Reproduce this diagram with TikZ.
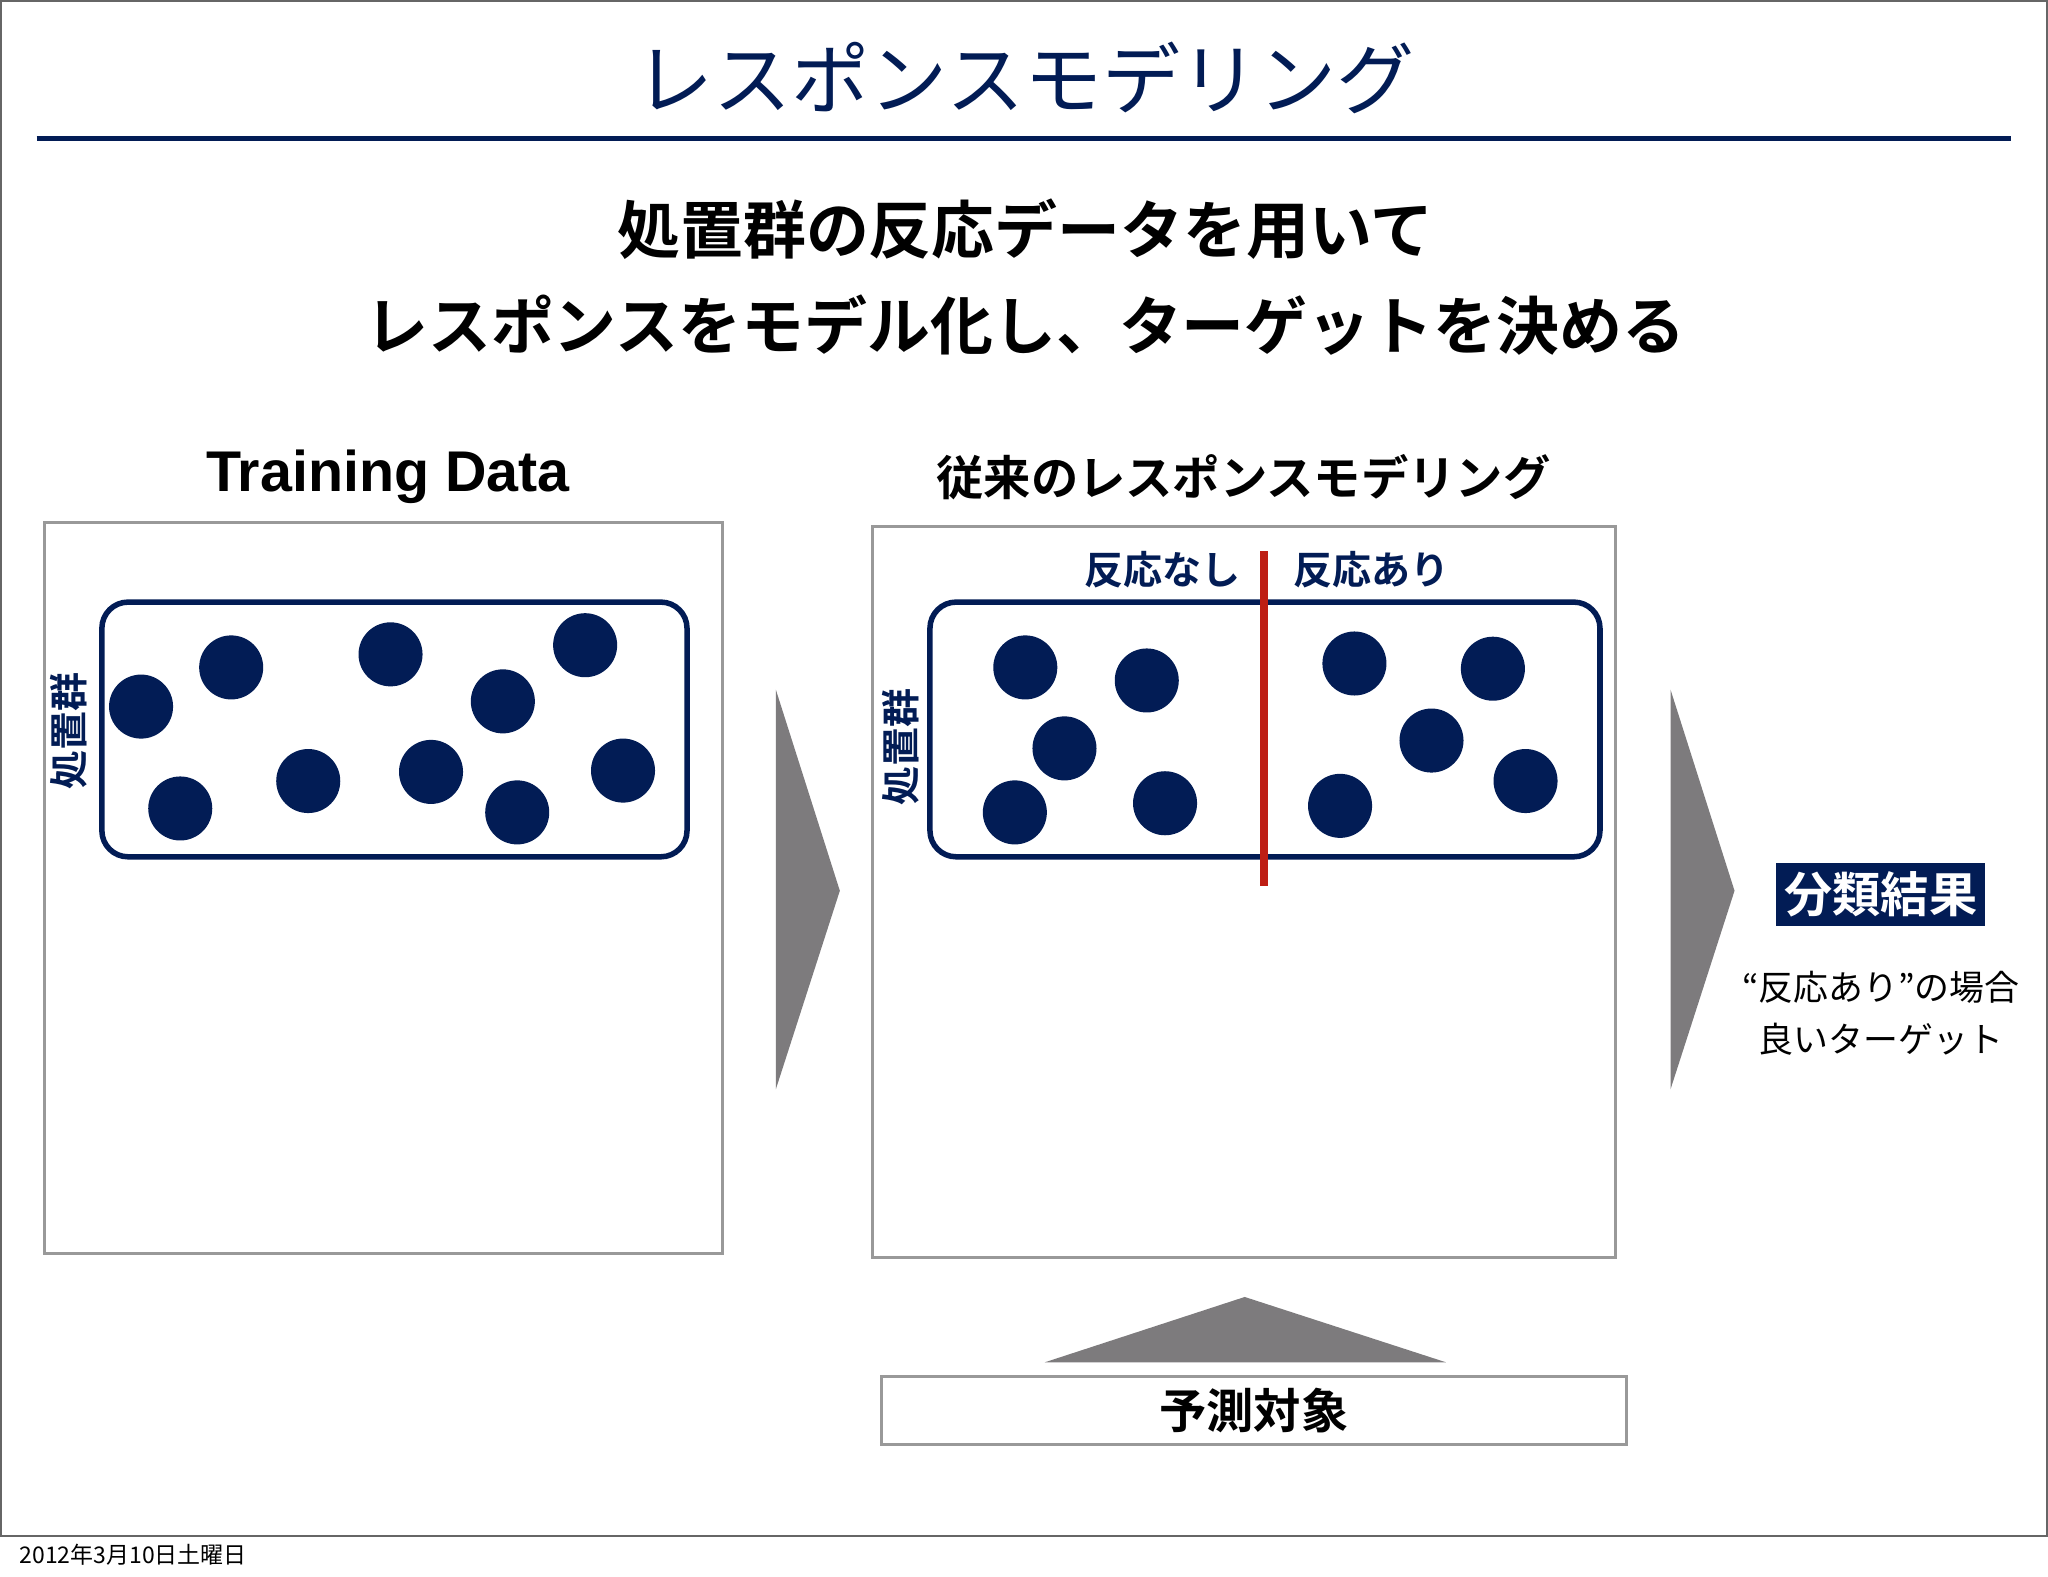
\documentclass[tikz,border=0pt]{standalone}
\usepackage{fontspec}
\setmainfont{Noto Sans CJK JP}
\newfontfamily\jpb{Noto Sans CJK JP}[UprightFont=* Bold]
\newfontfamily\lat{Liberation Sans}
\definecolor{navy}{RGB}{2,28,85}
\definecolor{arrowgray}{RGB}{125,123,125}
\definecolor{redl}{RGB}{190,30,20}
\begin{document}
\begin{tikzpicture}[x=0.01cm,y=-0.01cm,
  dot/.style={circle,fill=navy,minimum width=0.49cm,minimum height=0.47cm,inner sep=0pt},
  panel/.style={draw=black!40,line width=0.6pt},
  group/.style={draw=navy,line width=1.2pt,rounded corners=0.2cm},
  tri/.style={fill=arrowgray}]
\useasboundingbox (0,0) rectangle (1568,1207);
\fill[white] (0,0) rectangle (1568,1207);
\draw[black!60,line width=0.5pt] (0.5,0.5) rectangle (1567,1176);
\node (footer) at (102,1190) {\fontsize{5pt}{6pt}\selectfont 2012年3月10日土曜日};
\node[text=navy] (title) at (785,60) {\fontsize{17pt}{20pt}\selectfont レスポンスモデリング};
\draw[navy,line width=1pt] (28,106) -- (1540,106);
\node[align=center,font=\jpb\fontsize{13.7pt}{20.8pt}\selectfont] (sub) at (785,212) {処置群の反応データを用いて\\レスポンスをモデル化し、ターゲットを決める};
\node (tdl) at (297,365) {\lat\bfseries\fontsize{12.5pt}{14pt}\selectfont Training Data};
\draw[panel] (34,400) rectangle (553,960);
\draw[group] (78,461) rectangle (526,656);
\node[rotate=90,text=navy] (g1) at (53,560) {\jpb\fontsize{8.5pt}{10pt}\selectfont 処置群};
\foreach \x/\y [count=\i] in {108/541,177/511,299/501,385/537,448/494,138/619,236/598,330/591,396/622,477/590}
  \node[dot] (a\i) at (\x,\y) {};
\fill[tri] (594,528) -- (643,682) -- (594,834) -- cycle;
\node (mtl) at (952,365) {\jpb\fontsize{10.3pt}{12pt}\selectfont 従来のレスポンスモデリング};
\draw[panel] (668,403) rectangle (1237,963);
\draw[group] (712,461) rectangle (1225,656);
\coordinate (rt) at (968,422); \coordinate (rb) at (968,678);
\draw[redl,line width=1.8pt] (rt) -- (rb);
\node[text=navy] (nr) at (890,436) {\jpb\fontsize{8.5pt}{10pt}\selectfont 反応なし};
\node[text=navy] (yr) at (1050,436) {\jpb\fontsize{8.5pt}{10pt}\selectfont 反応あり};
\node[rotate=90,text=navy] (g2) at (690,572) {\jpb\fontsize{8.5pt}{10pt}\selectfont 処置群};
\foreach \x/\y [count=\i] in {785/511,878/521,815/573,777/622,892/615,1037/508,1143/512,1096/567,1168/598,1026/617}
  \node[dot] (b\i) at (\x,\y) {};
\fill[tri] (1279,528) -- (1328,682) -- (1279,834) -- cycle;
\node[fill=navy,text=white,minimum width=1.6cm,minimum height=0.48cm,inner sep=1pt] (res) at (1440,685) {\jpb\fontsize{10.5pt}{12pt}\selectfont 分類結果};
\node[align=center,font=\fontsize{7.6pt}{11.3pt}\selectfont] (rtx) at (1440,776) {“反応あり”の場合\\良いターゲット};
\fill[tri] (800,1043) -- (953,993) -- (1107,1043) -- cycle;
\node[panel,minimum width=5.7cm,minimum height=0.52cm,inner sep=0pt] (pred) at (960,1080) {\jpb\fontsize{10.3pt}{12pt}\selectfont 予測対象};
\end{tikzpicture}
\end{document}
